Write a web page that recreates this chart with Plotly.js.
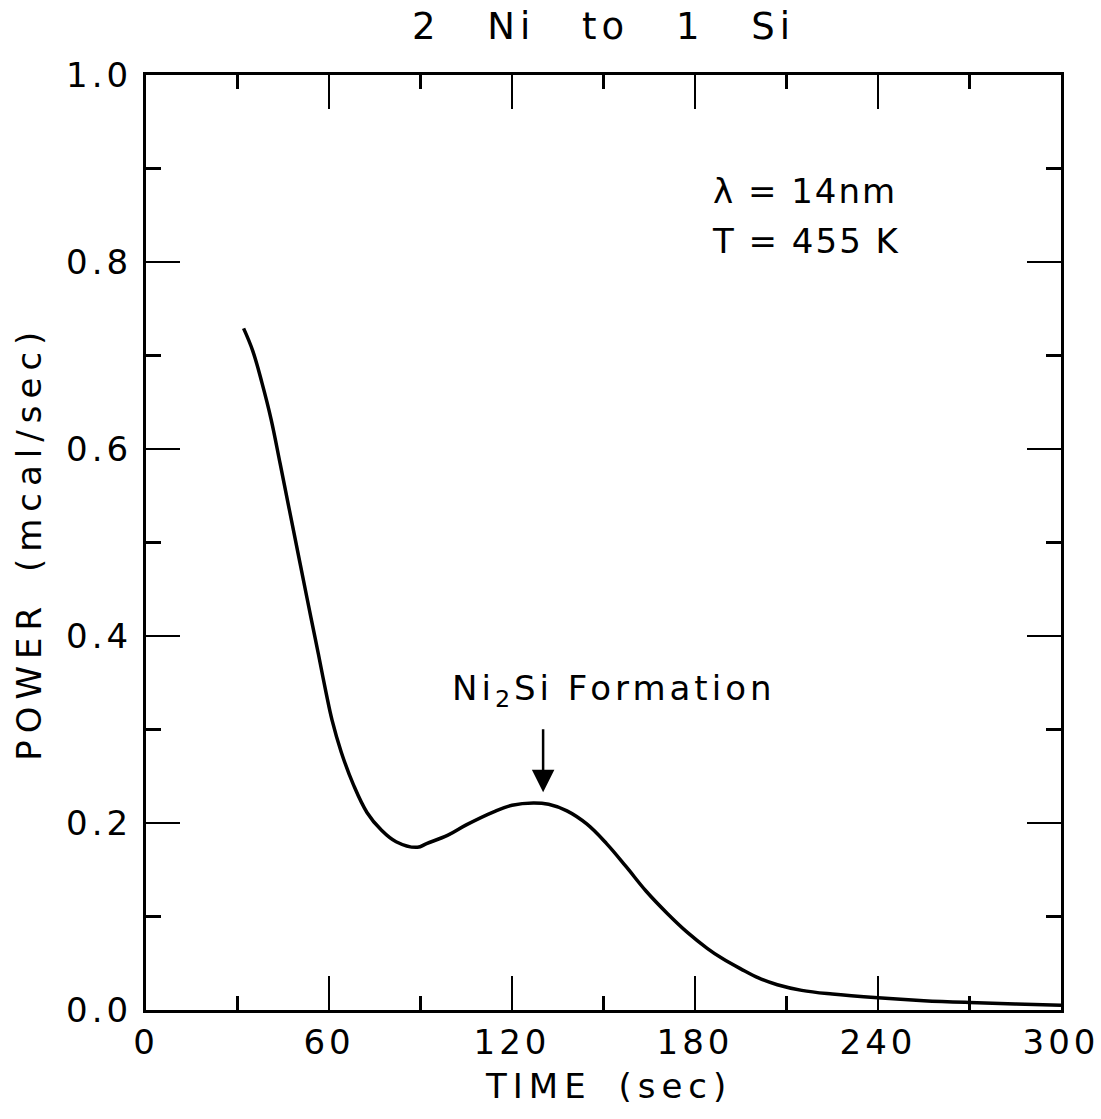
<!DOCTYPE html>
<html>
<head>
<meta charset="utf-8">
<script src="https://cdn.plot.ly/plotly-3.0.1.min.js"></script>
<style>
  html, body { margin: 0; padding: 0; background: #fff; }
  #chart svg text { letter-spacing: 4px; }
  #chart .gtitle { word-spacing: 30px; letter-spacing: 5px; }
  #chart g.annotation[data-index="2"] text, #chart g.annotation[data-index="3"] text { letter-spacing: 2px; }
  #chart g.annotation[data-index="4"] text { word-spacing: 10px; letter-spacing: 6px; }
  #chart g.annotation[data-index="5"] text { word-spacing: 10px; letter-spacing: 7px; }
</style>
</head>
<body>
<div id="chart" style="width:1101px;height:1119px;"></div>
<script>
// Data
const timeSec = [32, 35, 38, 41, 44, 47, 50.5, 54, 56.5, 59, 61, 64, 68, 72.5, 77, 82, 89, 92, 99, 105, 114, 120, 127, 132, 138, 144.5, 151, 157.5, 164, 171, 177.5, 184, 189, 195, 201, 207, 215, 225, 240, 255, 270, 285, 300];
const powerMcal = [0.729, 0.705, 0.671, 0.632, 0.584, 0.535, 0.478, 0.421, 0.381, 0.340, 0.31, 0.276, 0.241, 0.211, 0.193, 0.180, 0.174, 0.178, 0.187, 0.198, 0.212, 0.219, 0.2215, 0.220, 0.213, 0.199, 0.178, 0.153, 0.127, 0.103, 0.083, 0.066, 0.055, 0.044, 0.034, 0.027, 0.021, 0.017, 0.013, 0.010, 0.008, 0.0065, 0.005];
const xTickVals = [0, 60, 120, 180, 240, 300];
const yTickVals = [0.0, 0.2, 0.4, 0.6, 0.8, 1.0];
const titleText = "2 Ni to 1 Si";
const xTitle = "TIME (sec)";
const yTitle = "POWER (mcal/sec)";
const peakTime = 130.2, arrowTip = 0.233, arrowTail = 0.302;
const peakLabel = "Ni<sub>2</sub>Si Formation";
const infoLines = ["\u03bb = 14nm", "T = 455 K"];

const FONT = "DejaVu Sans, sans-serif";

const trace = {
  x: timeSec, y: powerMcal, type: 'scatter', mode: 'lines',
  line: { color: '#000', width: 3.5, shape: 'spline', smoothing: 1.1 },
  hoverinfo: 'skip', showlegend: false
};

const axisCommon = {
  showline: true, linecolor: '#000', linewidth: 3, mirror: 'allticks',
  ticks: 'inside', tickcolor: '#000', tickwidth: 2.5, ticklen: 34,
  showgrid: false, zeroline: false,
  tickfont: { family: FONT, size: 34, color: '#000' }
};

const layout = {
  width: 1101, height: 1119,
  margin: { l: 146, r: 40, t: 75, b: 109, pad: 0 },
  paper_bgcolor: '#fff', plot_bgcolor: '#fff',
  font: { family: FONT, color: '#000' },
  title: { text: titleText, font: { family: FONT, size: 37, color: '#000' },
           xref: 'paper', x: 0.5, xanchor: 'center', yref: 'container', y: 0.977, yanchor: 'middle' },
  xaxis: Object.assign({}, axisCommon, {
    range: [0, 300], tickmode: 'array', tickvals: xTickVals, ticktext: xTickVals.map(String),
    ticklabelstandoff: 0,
    minor: { dtick: 30, tick0: 0, ticks: 'inside', ticklen: 14, tickwidth: 2.5, tickcolor: '#000', showgrid: false }
  }),
  yaxis: Object.assign({}, axisCommon, {
    range: [0, 1.0], tickmode: 'array', tickvals: yTickVals, ticktext: yTickVals.map(v => v.toFixed(1)),
    ticklabelstandoff: 4,
    minor: { dtick: 0.1, tick0: 0, ticks: 'inside', ticklen: 15, tickwidth: 2.5, tickcolor: '#000', showgrid: false }
  }),
  annotations: [
    { x: peakTime, y: arrowTip, ax: peakTime, ay: arrowTail, axref: 'x', ayref: 'y', xref: 'x', yref: 'y',
      text: '', showarrow: true, arrowhead: 2, arrowsize: 1.8, arrowwidth: 2.5, arrowcolor: '#000' },
    { x: 153.4, y: 0.342, xref: 'x', yref: 'y', text: peakLabel, showarrow: false,
      xanchor: 'center', yanchor: 'middle', font: { family: FONT, size: 34, color: '#000' } },
    { x: 188, y: 0.876, xref: 'x', yref: 'y', text: infoLines[0], showarrow: false,
      xanchor: 'left', yanchor: 'middle', font: { family: FONT, size: 34, color: '#000' } },
    { x: 188, y: 0.822, xref: 'x', yref: 'y', text: infoLines[1], showarrow: false,
      xanchor: 'left', yanchor: 'middle', font: { family: FONT, size: 34, color: '#000' } },
    { x: 0.505, y: -0.0813, xref: 'paper', yref: 'paper', text: xTitle, showarrow: false,
      xanchor: 'center', yanchor: 'middle', font: { family: FONT, size: 34, color: '#000' } },
    { x: -0.128, y: 0.4995, xref: 'paper', yref: 'paper', text: yTitle, showarrow: false, textangle: -90,
      xanchor: 'center', yanchor: 'middle', font: { family: FONT, size: 34, color: '#000' } }
  ]
};

Plotly.newPlot('chart', [trace], layout, { staticPlot: true, displayModeBar: false });
</script>
</body>
</html>
